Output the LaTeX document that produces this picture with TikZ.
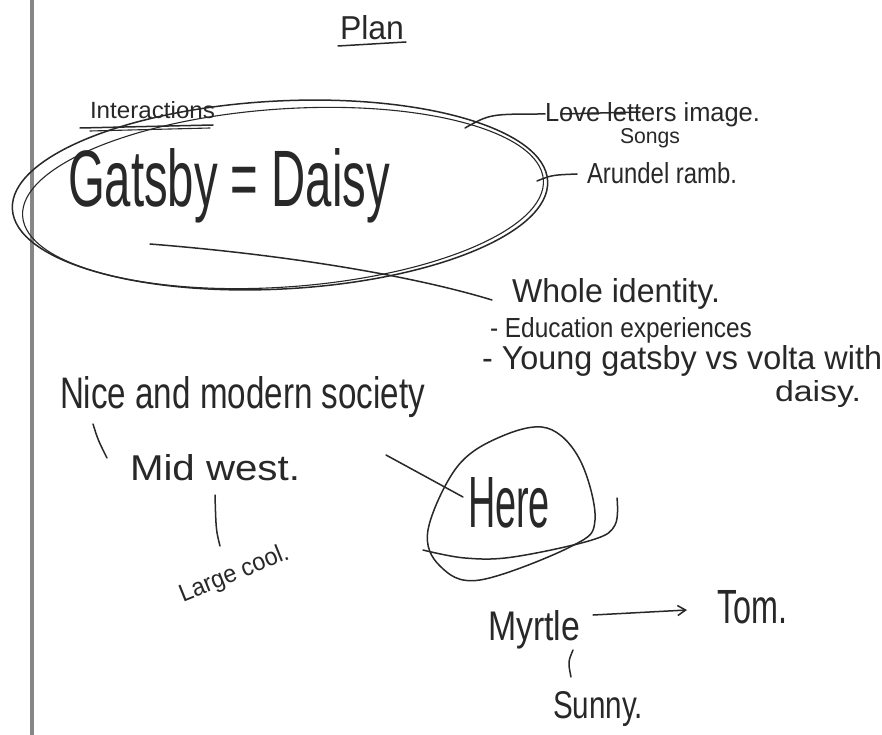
\documentclass[tikz,border=0pt]{standalone}
\usepackage{fontspec}
\setmainfont{Liberation Sans}
\usetikzlibrary{arrows.meta}
\definecolor{ink}{RGB}{40,40,40}
\definecolor{barc}{RGB}{135,135,135}
\newcommand\fitbox[3]{\resizebox{#1pt}{#2pt}{#3}}
\begin{document}
\begin{tikzpicture}[x=1pt,y=-1pt,
  hw/.style={inner sep=0pt, outer sep=0pt, anchor=base west, text=ink},
  pen/.style={draw=ink, line width=1.5pt, line cap=round, line join=round},
  thinpen/.style={pen, line width=1.1pt}]
\useasboundingbox[fill=white] (0,0) rectangle (882,735);
\draw[barc, line width=3.5pt] (32,0) -- (32,735);

% title
\node[hw] (plan) at (340,40) {\fitbox{64}{24}{Plan}};
\draw[pen] (338,46) -- (406,42);

% interactions
\node[hw] (inter) at (90,119) {\fitbox{125}{17}{Interactions}};
\draw[pen] (80,128) -- (213,125);
\draw[thinpen] (90,131) -- (210,128);

% central ellipse
\node[hw] (gd) at (68,206) {\fitbox{322}{58}{Gatsby = Daisy}};
\draw[pen] (280,195) ellipse[x radius=268, y radius=94, rotate=3];
\draw[thinpen] (283,198) ellipse[x radius=261, y radius=89, rotate=4];

% right labels
\node[hw] (love) at (545,122) {\fitbox{215}{19}{Love letters image.}};
\draw[pen] (561,114) -- (640,112);
\node[hw] (songs) at (620,144) {\fitbox{60}{15}{Songs}};
\coordinate (e1) at (465,128);
\draw[pen] (e1) .. controls (490,114) .. ([yshift=8pt]love.base west);

\node[hw] (arun) at (587,184) {\fitbox{150}{21}{Arundel ramb.}};
\coordinate (e2) at (537,181);
\draw[pen] (e2) .. controls (552,175) .. ([xshift=-10pt,yshift=10pt]arun.base west);

\node[hw] (whole) at (512,302) {\fitbox{208}{24}{Whole identity.}};
\node[hw] (edu) at (490,337) {\fitbox{262}{20}{- Education experiences}};
\node[hw] (young) at (482,369) {\fitbox{400}{24}{- Young gatsby vs volta with}};
\node[hw] (daisy) at (775,401) {\fitbox{86}{21}{daisy.}};
\coordinate (g1) at (150,244);
\draw[pen] (g1) .. controls (300,256) and (420,278) .. ([xshift=-20pt,yshift=2pt]whole.base west);

% left column
\node[hw] (nice) at (60,408) {\fitbox{365}{32}{Nice and modern society}};
\node[hw] (mid) at (130,480) {\fitbox{170}{26}{Mid west.}};
\draw[pen] (93,424) .. controls (98,440) .. (107,458);
\node[hw, rotate=22] (large) at (183,602) {\fitbox{116}{18}{Large cool.}};
\draw[pen] (215,495) .. controls (216,530) .. (220,546);

% here blob
\node[hw] (here) at (468,527) {\fitbox{82}{50}{Here}};
\draw[pen] plot[smooth cycle, tension=0.6] coordinates {(547,428) (580,460) (595,520) (572,546) (480,580) (440,566) (428,530) (457,467) (500,437)};
\draw[pen] plot[smooth, tension=0.6] coordinates {(617,498) (615,525) (592,540) (513,557) (465,558) (423,550)};
\coordinate (h0) at (386,455);
\draw[pen] (h0) -- ([xshift=-5pt,yshift=30pt]here.base west);

% bottom
\node[hw] (myr) at (488,640) {\fitbox{92}{30}{Myrtle}};
\node[hw] (tom) at (717,623) {\fitbox{70}{33}{Tom.}};
\draw[pen, -{Straight Barb[length=8pt,width=10pt]}] ([xshift=13pt,yshift=25pt]myr.base east) -- ([xshift=-30pt,yshift=13pt]tom.base west);
\node[hw] (sunny) at (553,718) {\fitbox{90}{27}{Sunny.}};
\draw[pen] (573,650) .. controls (568,662) .. (571,677);
\end{tikzpicture}
\end{document}
